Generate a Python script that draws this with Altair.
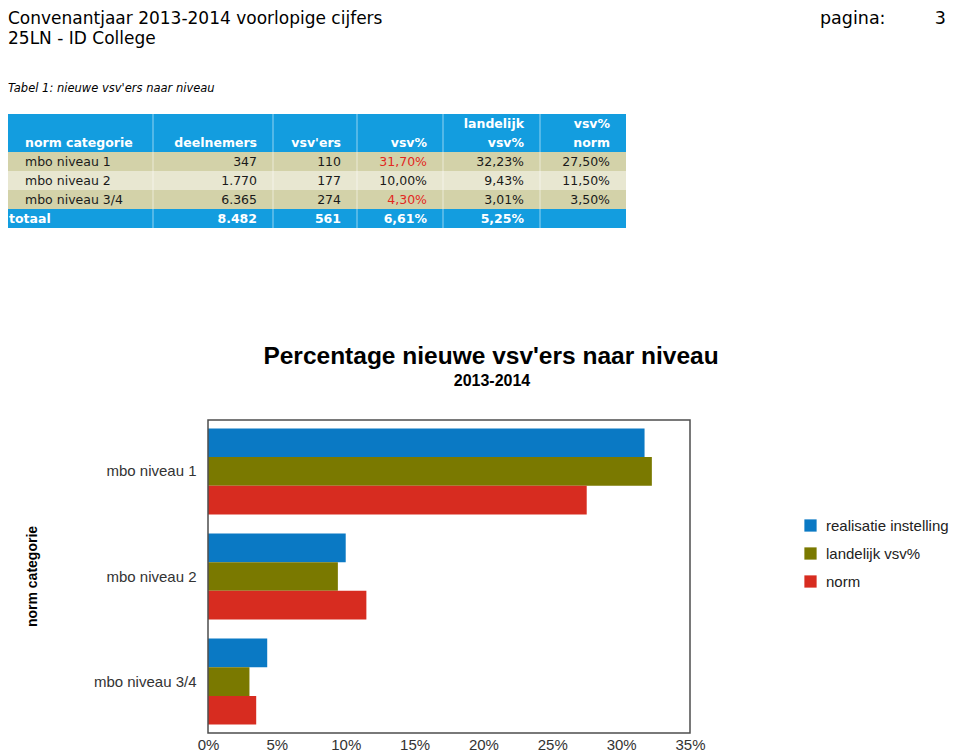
import altair as alt
import pandas as pd

# ---------------- data ----------------
categorieen = ["mbo niveau 1", "mbo niveau 2", "mbo niveau 3/4"]
deelnemers = [347, 1770, 6365]
vsv_ers = [110, 177, 274]
vsv_pct = [31.70, 10.00, 4.30]
landelijk_pct = [32.23, 9.43, 3.01]
norm_pct = [27.50, 11.50, 3.50]
totaal_deelnemers = 8482
totaal_vsv_ers = 561
totaal_vsv_pct = 6.61
totaal_landelijk_pct = 5.25

reeksen = ["realisatie instelling", "landelijk vsv%", "norm"]
x_ticks = [0, 0.05, 0.10, 0.15, 0.20, 0.25, 0.30, 0.35]

kop_titel = "Convenantjaar 2013-2014 voorlopige cijfers"
kop_school = "25LN - ID College"
kop_pagina = "pagina:"
paginanummer = "3"
tabel_titel = "Tabel 1: nieuwe vsv'ers naar niveau"
grafiek_titel = "Percentage nieuwe vsv'ers naar niveau"
grafiek_sub = "2013-2014"
y_titel = "norm categorie"
totaal_label = "totaal"
kolomkoppen = [["norm categorie"], ["deelnemers"], ["vsv'ers"], ["vsv%"],
               ["landelijk", "vsv%"], ["vsv%", "norm"]]

# ---------------- layout / style ----------------
W, H = 944, 744
TABEL_BLAUW = "#139ddf"
KAKI = "#d3d2a9"
LICHT = "#e8e7d1"
ROOD_TEKST = "#e2291f"
reeks_kleuren = ["#0a79c4", "#7a7900", "#d72c20"]

PLOT_X0, PLOT_X1 = 200, 682
PLOT_Y0, PLOT_Y1 = 412, 725
TAB_Y0, TAB_Y1 = 106, 220
TAB_X1 = 618
kol_x = [17, 249, 333, 419, 516, 602]
kol_align = ["left", "right", "right", "right", "right", "right"]
scheiding_x = [145, 265, 349, 435, 532]


def nl_getal(v):
    return f"{v:,}".replace(",", ".")


def nl_pct(v):
    return f"{v:.2f}".replace(".", ",") + "%"


een = pd.DataFrame({"d": [0]})


def tekst(s, x, y, size, font="DejaVu Sans", weight="normal", align="left",
          style="normal", color="#000000", angle=0, baseline="alphabetic"):
    return alt.Chart(een).mark_text(
        text=s, fontSize=size, font=font, fontWeight=weight, align=align,
        baseline=baseline, fontStyle=style, color=color, angle=angle
    ).encode(x=alt.value(x), y=alt.value(y))


lagen = []

# page header
lagen.append(tekst(kop_titel, 0, 16, 17))
lagen.append(tekst(kop_school, 0, 36, 17))
lagen.append(tekst(kop_pagina, 812, 16, 17.5))
lagen.append(tekst(paginanummer, 938, 16, 17.5, align="right"))
lagen.append(tekst(tabel_titel, 0, 84, 11.5, style="italic"))

# ---------------- table ----------------
tabel_y = alt.Scale(domain=[0, 6], range=[TAB_Y0, TAB_Y1], nice=False, zero=False)

rij_df = pd.DataFrame(
    [dict(start=0, eind=2, soort="kop")]
    + [dict(start=2 + i, eind=3 + i, soort="oneven" if i % 2 == 0 else "even")
       for i in range(len(categorieen))]
    + [dict(start=2 + len(categorieen), eind=3 + len(categorieen), soort="totaal")]
)
lagen.append(
    alt.Chart(rij_df).mark_rect().encode(
        x=alt.value(0), x2=alt.value(TAB_X1),
        y=alt.Y("start:Q", scale=tabel_y, axis=None), y2="eind:Q",
        color=alt.Color("soort:N", legend=None,
                        scale=alt.Scale(domain=["kop", "oneven", "even", "totaal"],
                                        range=[TABEL_BLAUW, KAKI, LICHT, TABEL_BLAUW])),
    )
)
for sx in scheiding_x:
    lagen.append(
        alt.Chart(een).mark_rule(color="#ffffff", opacity=0.55, strokeWidth=1).encode(
            x=alt.value(sx), y=alt.value(TAB_Y0), y2=alt.value(TAB_Y1))
    )

cellen = []
for c, regels in enumerate(kolomkoppen):
    start = 2 - len(regels)
    for k, r in enumerate(regels):
        cellen.append(dict(kol=c, mid=start + k + 0.5, tekst=r, soort="kop"))
for i, cat in enumerate(categorieen):
    waarden = [cat, nl_getal(deelnemers[i]), nl_getal(vsv_ers[i]), nl_pct(vsv_pct[i]),
               nl_pct(landelijk_pct[i]), nl_pct(norm_pct[i])]
    for c, w in enumerate(waarden):
        soort = "rood" if (c == 3 and vsv_pct[i] > norm_pct[i]) else "zwart"
        cellen.append(dict(kol=c, mid=2 + i + 0.5, tekst=w, soort=soort))
tot = [totaal_label, nl_getal(totaal_deelnemers), nl_getal(totaal_vsv_ers),
       nl_pct(totaal_vsv_pct), nl_pct(totaal_landelijk_pct), ""]
for c, w in enumerate(tot):
    cellen.append(dict(kol=c, mid=2 + len(categorieen) + 0.5, tekst=w, soort="totaal"))
cel_df = pd.DataFrame(cellen)

tekst_kleur = alt.Color("soort:N", legend=None,
                        scale=alt.Scale(domain=["kop", "totaal", "zwart", "rood"],
                                        range=["#ffffff", "#ffffff", "#1a1a1a", ROOD_TEKST]))
for c in range(len(kolomkoppen)):
    for groep, vet in (("kop", True), ("body", False), ("totaal", True)):
        if groep == "body":
            sub = cel_df[(cel_df.kol == c) & cel_df.soort.isin(["zwart", "rood"])]
        else:
            sub = cel_df[(cel_df.kol == c) & (cel_df.soort == groep)]
        sub = sub[sub.tekst != ""]
        if sub.empty:
            continue
        xpos = 1 if (groep == "totaal" and c == 0) else kol_x[c]
        lagen.append(
            alt.Chart(sub).mark_text(
                font="DejaVu Sans", fontSize=12.5, fontWeight="bold" if vet else "normal",
                align=kol_align[c], baseline="middle"
            ).encode(
                x=alt.value(xpos),
                y=alt.Y("mid:Q", scale=tabel_y, axis=None),
                text="tekst:N",
                color=tekst_kleur,
            )
        )

# ---------------- bar chart ----------------
lagen.append(tekst(grafiek_titel, 483, 356, 24.5, font="Liberation Sans", weight="bold", align="center"))
lagen.append(tekst(grafiek_sub, 484, 378, 16, font="Liberation Sans", weight="bold", align="center"))
lagen.append(tekst(y_titel, 29, (PLOT_Y0 + PLOT_Y1) / 2, 14, font="Liberation Sans",
                   weight="bold", align="center", angle=270))

bar_rows = []
for i, cat in enumerate(categorieen):
    for r, v in zip(reeksen, [vsv_pct[i], landelijk_pct[i], norm_pct[i]]):
        bar_rows.append(dict(categorie=cat, reeks=r, waarde=v / 100))
bar_df = pd.DataFrame(bar_rows)

x_schaal = alt.Scale(domain=[0, 0.35], range=[PLOT_X0, PLOT_X1], nice=False, zero=True)

staven = alt.Chart(bar_df).mark_bar().encode(
    x=alt.X("waarde:Q", scale=x_schaal,
            axis=alt.Axis(orient="bottom", offset=PLOT_Y1 - H, values=x_ticks, format=".0%",
                          ticks=False, tickSize=0, domain=False, grid=False, title=None,
                          labelFont="Liberation Sans", labelFontSize=15, labelColor="#333333",
                          labelPadding=4, labelFlush=False, labelOverlap=False)),
    y=alt.Y("categorie:N", sort=categorieen,
            scale=alt.Scale(domain=categorieen, range=[PLOT_Y0, PLOT_Y1],
                            paddingInner=0.18, paddingOuter=0.08),
            axis=alt.Axis(orient="left", offset=-PLOT_X0, ticks=False, tickSize=0, domain=False,
                          grid=False, title=None, labelFont="Liberation Sans", labelFontSize=15,
                          labelColor="#333333", labelPadding=12)),
    yOffset=alt.YOffset("reeks:N", sort=reeksen,
                        scale=alt.Scale(domain=reeksen, paddingInner=0, paddingOuter=0)),
    color=alt.Color("reeks:N", scale=alt.Scale(domain=reeksen, range=reeks_kleuren),
                    legend=alt.Legend(orient="none", legendX=795, legendY=510, title=None,
                                      symbolType="square", symbolSize=150, symbolStrokeWidth=0,
                                      labelFont="Liberation Sans", labelFontSize=15,
                                      labelColor="#222222", rowPadding=12, labelOffset=8)),
)

kader = alt.Chart(een).mark_rect(fillOpacity=0, stroke="#4d4d4d", strokeWidth=1.5).encode(
    x=alt.datum(0, type="quantitative"), x2=alt.datum(0.35),
    y=alt.value(PLOT_Y0), y2=alt.value(PLOT_Y1),
)

lagen.append(alt.layer(staven, kader))

chart = alt.layer(*lagen).resolve_scale(
    x="independent", y="independent", color="independent"
).properties(
    width=W, height=H, autosize=alt.AutoSizeParams(type="none"), padding=0,
    background="#ffffff"
).configure_view(stroke=None)

chart.save("out.html", embed_options={"renderer": "svg", "actions": False})
